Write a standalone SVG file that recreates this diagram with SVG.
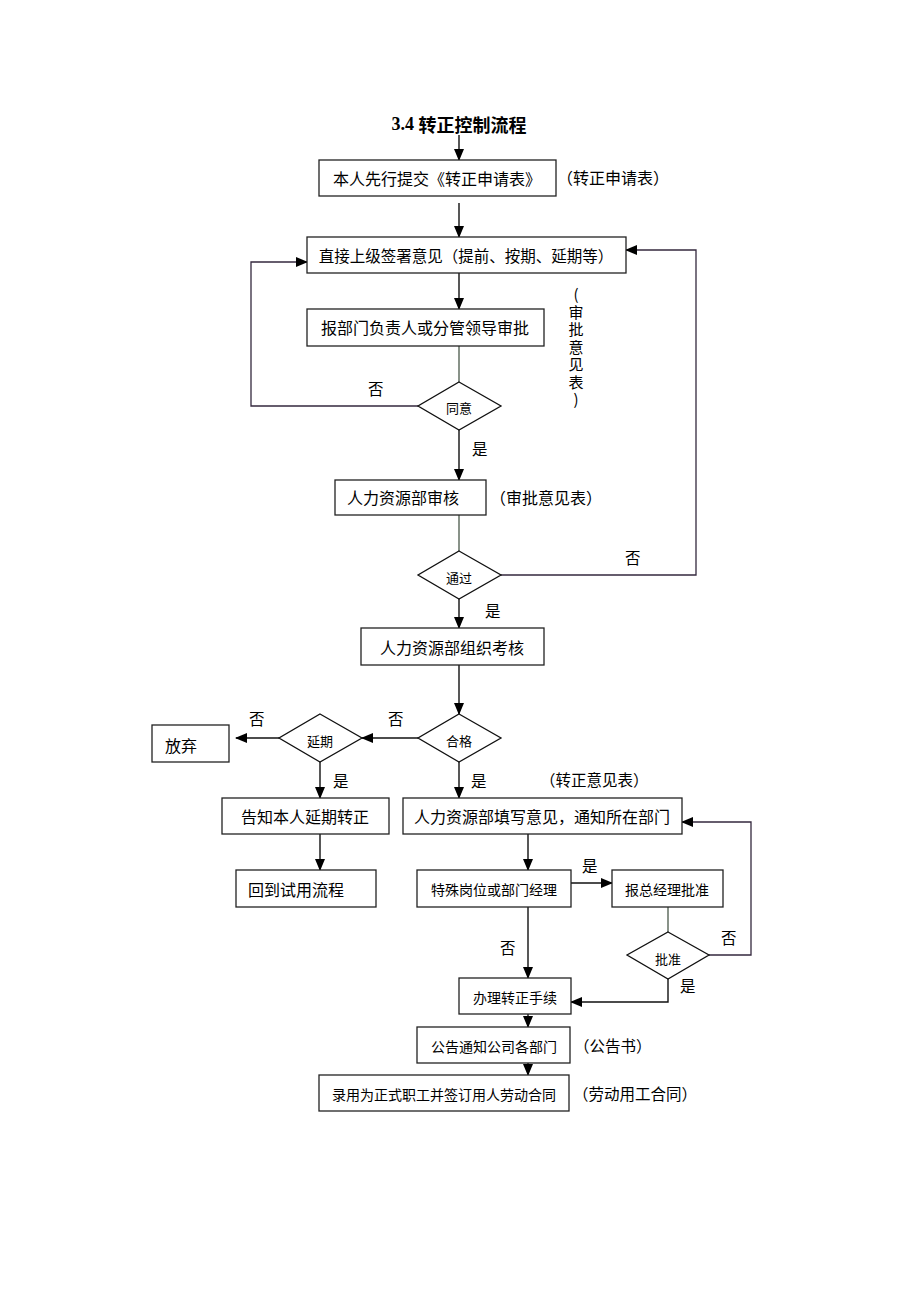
<svg xmlns="http://www.w3.org/2000/svg" width="920" height="1302" viewBox="0 0 920 1302">
<style>
  text{font-family:"Noto Sans CJK SC","Liberation Sans",sans-serif;fill:#000;dominant-baseline:central}
  .box{fill:#fff;stroke:#222;stroke-width:1.3}
  .dia{fill:#fff;stroke:#111;stroke-width:1.3}
  .t16{font-size:16px}
  .t15{font-size:15.5px}
  .t14{font-size:14px}
  .t13{font-size:13px}
  .c{text-anchor:middle}
  .ln{fill:none;stroke:#111;stroke-width:1.4}
  .lg{fill:none;stroke:#4a584a;stroke-width:1.3}
  .lp{fill:none;stroke:#34283e;stroke-width:1.3}
  .vt{writing-mode:vertical-rl;text-orientation:upright;font-size:15px;letter-spacing:2.5px}
</style>
<defs>
  <marker id="ah" markerUnits="userSpaceOnUse" markerWidth="12" markerHeight="10" refX="11" refY="5" orient="auto">
    <path d="M0,0 L12,5 L0,10 z" fill="#000"/>
  </marker>
</defs>
<rect width="920" height="1302" fill="#fff"/>

<text x="459" y="124" class="c" style="font-size:18px;font-weight:bold"><tspan style="font-family:'Liberation Serif',serif">3.4 </tspan>转正控制流程</text>

<g id="connectors">
  <line class="ln" x1="459" y1="135" x2="459" y2="160" marker-end="url(#ah)"/>
  <line class="ln" x1="459" y1="203" x2="459" y2="237" marker-end="url(#ah)"/>
  <line class="ln" x1="459" y1="273" x2="459" y2="309" marker-end="url(#ah)"/>
  <line class="lg" x1="459" y1="346" x2="459" y2="382"/>
  <polyline class="lp" points="418,406 251,406 251,262 307,262" marker-end="url(#ah)"/>
  <line class="ln" x1="459" y1="430" x2="459" y2="480" marker-end="url(#ah)"/>
  <line class="lg" x1="459" y1="515" x2="459" y2="551"/>
  <polyline class="lp" points="501,575 696,575 696,250 626,250" marker-end="url(#ah)"/>
  <line class="ln" x1="459" y1="599" x2="459" y2="628" marker-end="url(#ah)"/>
  <line class="ln" x1="459" y1="665" x2="459" y2="714" marker-end="url(#ah)"/>
  <line class="ln" x1="418" y1="738" x2="362" y2="738" marker-end="url(#ah)"/>
  <line class="ln" x1="279" y1="738" x2="236" y2="738" marker-end="url(#ah)"/>
  <line class="ln" x1="320" y1="762" x2="320" y2="798" marker-end="url(#ah)"/>
  <line class="ln" x1="320" y1="834" x2="320" y2="870" marker-end="url(#ah)"/>
  <line class="ln" x1="459" y1="762" x2="459" y2="798" marker-end="url(#ah)"/>
  <line class="ln" x1="528" y1="834" x2="528" y2="870" marker-end="url(#ah)"/>
  <line class="ln" x1="571" y1="883" x2="612" y2="883" marker-end="url(#ah)"/>
  <line class="lg" x1="668" y1="907" x2="668" y2="932"/>
  <polyline class="lp" points="709,955 751,955 751,822 682,822" marker-end="url(#ah)"/>
  <polyline class="ln" points="668,979 668,1002 571,1002" marker-end="url(#ah)"/>
  <line class="ln" x1="528" y1="907" x2="528" y2="978" marker-end="url(#ah)"/>
  <line class="ln" x1="528" y1="1014" x2="528" y2="1027" marker-end="url(#ah)"/>
  <line class="ln" x1="528" y1="1063" x2="528" y2="1075" marker-end="url(#ah)"/>
  <text x="368" y="388" class="t15">否</text>
  <text x="472" y="448" class="t15">是</text>
  <text x="625" y="557" class="t15">否</text>
  <text x="485" y="610" class="t15">是</text>
  <text x="388" y="718" class="t15">否</text>
  <text x="249" y="718" class="t15">否</text>
  <text x="333" y="780" class="t15">是</text>
  <text x="471" y="780" class="t15">是</text>
  <text x="582" y="865" class="t15">是</text>
  <text x="500" y="947" class="t15">否</text>
  <text x="721" y="937" class="t15">否</text>
  <text x="680" y="985" class="t15">是</text>
</g>

<g id="n1">
  <rect class="box" x="319" y="160" width="237" height="36"/>
  <text x="437" y="178" class="t16 c">本人先行提交《转正申请表》</text>
  <text x="557" y="177" class="t16">（转正申请表）</text>
</g>
<g id="n2">
  <rect class="box" x="307" y="237" width="319" height="36"/>
  <text x="466" y="255" class="t15 c">直接上级签署意见（提前、按期、延期等）</text>
</g>
<g id="n3">
  <rect class="box" x="307" y="309" width="237" height="37"/>
  <text x="425" y="327" class="t16 c">报部门负责人或分管领导审批</text>
  <text x="576" y="287" class="vt">(审批意见表)</text>
</g>
<g id="d1">
  <polygon class="dia" points="459,382 501,406 459,430 418,406"/>
  <text x="459" y="407" class="t13 c">同意</text>
</g>
<g id="n4">
  <rect class="box" x="335" y="480" width="151" height="35"/>
  <text x="347" y="497" class="t16">人力资源部审核</text>
  <text x="490" y="497" class="t16">（审批意见表）</text>
</g>
<g id="d2">
  <polygon class="dia" points="459,551 501,575 459,599 418,575"/>
  <text x="459" y="577" class="t13 c">通过</text>
</g>
<g id="n5">
  <rect class="box" x="361" y="628" width="183" height="37"/>
  <text x="452" y="647" class="t16 c">人力资源部组织考核</text>
</g>
<g id="d3">
  <polygon class="dia" points="459,714 501,738 459,762 418,738"/>
  <text x="459" y="740" class="t13 c">合格</text>
</g>
<g id="d4">
  <polygon class="dia" points="320,714 362,738 320,762 279,738"/>
  <text x="320" y="740" class="t13 c">延期</text>
</g>
<g id="n6">
  <rect class="box" x="152" y="725" width="77" height="37"/>
  <text x="165" y="745" class="t16">放弃</text>
</g>
<g id="n7">
  <rect class="box" x="222" y="798" width="167" height="36"/>
  <text x="305" y="816" class="t16 c">告知本人延期转正</text>
</g>
<g id="n8">
  <rect class="box" x="236" y="870" width="140" height="37"/>
  <text x="296" y="889" class="t16 c">回到试用流程</text>
</g>
<g id="n9">
  <rect class="box" x="403" y="798" width="279" height="36"/>
  <text x="542" y="816" class="t16 c">人力资源部填写意见，通知所在部门</text>
  <text x="540" y="779" class="t15">（转正意见表）</text>
</g>
<g id="n10">
  <rect class="box" x="417" y="870" width="154" height="37"/>
  <text x="494" y="889" class="t14 c">特殊岗位或部门经理</text>
</g>
<g id="n11">
  <rect class="box" x="612" y="870" width="111" height="37"/>
  <text x="667" y="889" class="t14 c">报总经理批准</text>
</g>
<g id="d5">
  <polygon class="dia" points="668,932 709,955 668,979 627,955"/>
  <text x="668" y="958" class="t13 c">批准</text>
</g>
<g id="n12">
  <rect class="box" x="459" y="978" width="112" height="36"/>
  <text x="515" y="997" class="t14 c">办理转正手续</text>
</g>
<g id="n13">
  <rect class="box" x="417" y="1027" width="153" height="36"/>
  <text x="494" y="1046" class="t14 c">公告通知公司各部门</text>
  <text x="574" y="1045" class="t15">（公告书）</text>
</g>
<g id="n14">
  <rect class="box" x="319" y="1075" width="250" height="36"/>
  <text x="444" y="1094" class="t14 c">录用为正式职工并签订用人劳动合同</text>
  <text x="573" y="1093" class="t15">（劳动用工合同）</text>
</g>
</svg>
